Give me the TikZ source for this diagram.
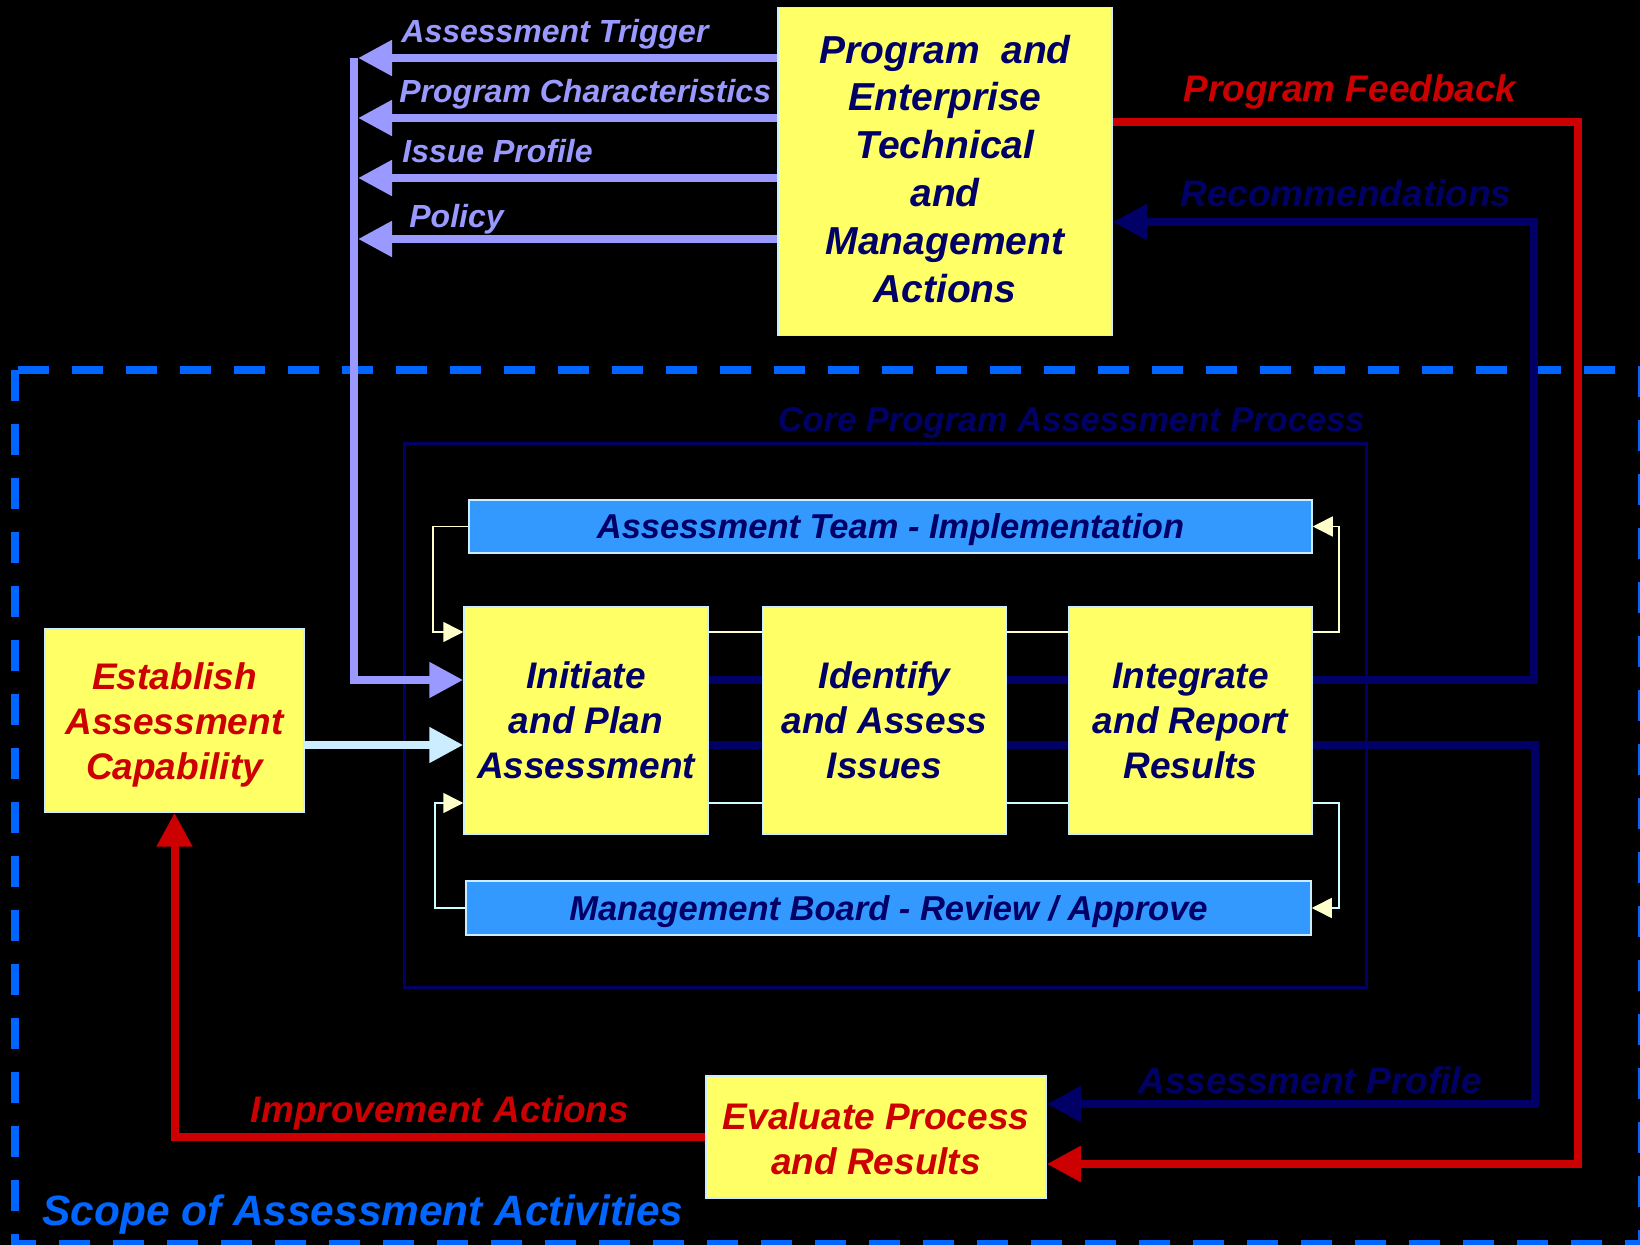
\documentclass[tikz,border=0pt]{standalone}
\usepackage{fontspec}
\setmainfont{Liberation Sans}
\usetikzlibrary{arrows.meta}
\definecolor{boxyellow}{HTML}{FFFF66}
\definecolor{edgeblue}{HTML}{CCECFF}
\definecolor{barblue}{HTML}{3399FF}
\definecolor{navyc}{HTML}{000066}
\definecolor{redc}{HTML}{CC0000}
\definecolor{lav}{HTML}{9999FF}
\definecolor{scopeblue}{HTML}{0066FF}
\definecolor{cream}{HTML}{FFFFCC}
\definecolor{paleline}{HTML}{CCFFFF}
\newcommand\bifont[2]{\bfseries\itshape\fontsize{#1}{#2}\selectfont}
\tikzset{
    box/.style={draw=edgeblue, line width=0.75pt, fill=boxyellow, inner sep=0pt, align=center, font=\bifont{18.5}{22.5}},
    bar/.style={draw=edgeblue, line width=0.75pt, fill=barblue, inner sep=0pt, text depth=0pt, text=navyc, font=\bifont{17.25}{20}},
    lbl/.style={inner sep=0pt, font=\bifont{18.5}{22}},
    fat/.style={line width=4pt, -{Triangle[length=17pt,width=17pt]}},
    fatline/.style={line width=4pt},
    thin/.style={line width=0.75pt},
    thinhead/.style={line width=0.75pt, -{Triangle[length=10pt,width=10pt,color=cream]}},
    scopeline/.style={draw=scopeblue, line width=4pt, dash pattern=on 15.5pt off 11.5pt}
}
\begin{document}
\begin{tikzpicture}[x=0.5pt,y=-0.5pt]
    \fill[black] (0,0) rectangle (1640,1245);
    \clip (0,0) rectangle (1640,1245);
    \draw[scopeline] (15,370) rectangle (1642,1244);
        \node[lbl, text=scopeblue, anchor=base west, font=\bifont{21.2}{25}] (scopetxt) at (42,1225) {Scope of Assessment Activities};
    \draw[navyc, line width=1.5pt] (404,443.5) rectangle (1366,987.5);
        \node[lbl, text=navyc, anchor=base east, font=\bifont{17.25}{20}] (coretxt) at (1365,432) {Core Program Assessment Process};

    \node[box, text=navyc, minimum width=167pt, minimum height=164pt, font=\bifont{19.5}{23.9}] (actions) at (945,171.5) {Program~ and\\Enterprise\\Technical\\and\\Management\\Actions\rule[-3pt]{0pt}{3pt}};
    \node[box, text=redc, minimum width=129.5pt, minimum height=91.5pt] (establish) at (174.5,720.5) {\rule{0pt}{17.5pt}Establish\\Assessment\\Capability};
    \node[box, text=navyc, minimum width=122pt, minimum height=113.5pt] (initiate) at (586,720.5) {Initiate\\and Plan\\Assessment};
    \node[box, text=navyc, minimum width=122pt, minimum height=113.5pt] (identify) at (884.5,720.5) {Identify\\and Assess\\Issues};
    \node[box, text=navyc, minimum width=121.5pt, minimum height=113.5pt] (integrate) at (1190.5,720.5) {Integrate\\and Report\\Results};
    \node[bar, minimum width=421.5pt, minimum height=26.5pt] (team) at (890.5,526.5) {Assessment Team - Implementation};
    \node[bar, minimum width=422.5pt, minimum height=27pt] (board) at (888.5,908) {Management Board - Review / Approve};
    \node[box, text=redc, minimum width=170pt, minimum height=61pt] (evaluate) at (876,1137) {\rule{0pt}{15pt}Evaluate Process\\and Results};

    \coordinate (bustop) at (354,58);
    \coordinate (bus1) at (358,58);
    \coordinate (bus2) at (358,118);
    \coordinate (bus3) at (358,178);
    \coordinate (bus4) at (358,239);
    \coordinate (rowA) at (0,632);
    \coordinate (rowB) at (0,680);
    \coordinate (rowC) at (0,745);
    \coordinate (rowD) at (0,803);
    \coordinate (leftA) at (433,632);
    \coordinate (leftB) at (435,803);
    \coordinate (rightA) at (1339,632);
    \coordinate (rightB) at (1339,803);
    \coordinate (recoturn) at (1534,222);
    \coordinate (profturn) at (1535,1104);
    \coordinate (fbtop) at (1578,122);
    \coordinate (fbbot) at (1578,1164);

    \draw[fat, lav] (actions.west |- bus1) to (bus1);
        \node[lbl, text=lav, anchor=base west, font=\bifont{16}{19}] (trigtxt) at (401,43) {Assessment Trigger};
    \draw[fat, lav] (actions.west |- bus2) to (bus2);
        \node[lbl, text=lav, anchor=base west, font=\bifont{16}{19}] (chartxt) at (399,103) {Program Characteristics};
    \draw[fat, lav] (actions.west |- bus3) to (bus3);
        \node[lbl, text=lav, anchor=base west, font=\bifont{16}{19}] (issuetxt) at (402,163) {Issue Profile};
    \draw[fat, lav] (actions.west |- bus4) to (bus4);
        \node[lbl, text=lav, anchor=base west, font=\bifont{16}{19}] (policytxt) at (409,228) {Policy};
    \draw[fat, lav] (bustop) |- (initiate.west |- rowB);
    \draw[fat, edgeblue] (establish.east |- rowC) to (initiate.west |- rowC);

    \draw[fatline, navyc] (initiate.east |- rowB) to (identify.west |- rowB);
    \draw[fatline, navyc] (identify.east |- rowB) to (integrate.west |- rowB);
    \draw[fatline, navyc] (initiate.east |- rowC) to (identify.west |- rowC);
    \draw[fatline, navyc] (identify.east |- rowC) to (integrate.west |- rowC);
    \draw[fat, navyc] (integrate.east |- rowB) -| (recoturn) -- (actions.east |- recoturn);
        \node[lbl, text=navyc, anchor=base] (recotxt) at (1346,207) {Recommendations};
    \draw[fat, navyc] (integrate.east |- rowC) -| (profturn) -- (evaluate.east |- profturn);
        \node[lbl, text=navyc, anchor=base] (proftxt) at (1310,1093) {Assessment Profile};
    \draw[fat, redc] (actions.east |- fbtop) -- (fbtop) -- (fbbot) -- (evaluate.east |- fbbot);
        \node[lbl, text=redc, anchor=base] (fbtxt) at (1350,102) {Program Feedback};
    \draw[fat, redc] (evaluate.west) -| (establish.south);
        \node[lbl, text=redc, anchor=base] (imptxt) at (440,1122) {Improvement Actions};

    \draw[thin, cream] (initiate.east |- rowA) to (identify.west |- rowA);
    \draw[thin, cream] (identify.east |- rowA) to (integrate.west |- rowA);
    \draw[thin, paleline] (initiate.east |- rowD) to (identify.west |- rowD);
    \draw[thin, paleline] (identify.east |- rowD) to (integrate.west |- rowD);
    \draw[thinhead, cream] (team.west) -| (leftA) -- (initiate.west |- leftA);
    \draw[thinhead, cream] (integrate.east |- rightA) -- (rightA) |- (team.east);
    \draw[thinhead, paleline] (board.west) -| (leftB) -- (initiate.west |- leftB);
    \draw[thinhead, paleline] (integrate.east |- rightB) -- (rightB) |- (board.east);
\end{tikzpicture}
\end{document}
